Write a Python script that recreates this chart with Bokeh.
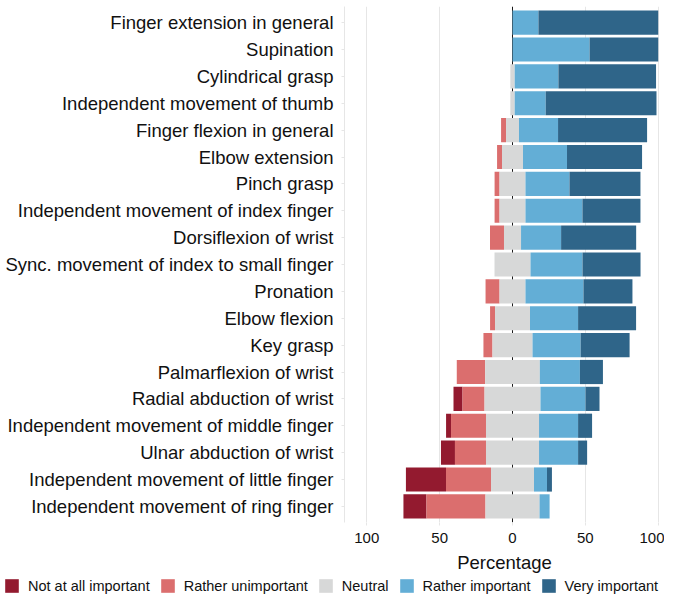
from bokeh.plotting import figure
from bokeh.layouts import column
from bokeh.models import (Range1d, FixedTicker, CustomJSTickFormatter, Span,
                          Legend, LegendItem, ColumnDataSource)
from bokeh.embed import file_html
from bokeh.resources import INLINE

categories = [
    "Finger extension in general",
    "Supination",
    "Cylindrical grasp",
    "Independent movement of thumb",
    "Finger flexion in general",
    "Elbow extension",
    "Pinch grasp",
    "Independent movement of index finger",
    "Dorsiflexion of wrist",
    "Sync. movement of index to small finger",
    "Pronation",
    "Elbow flexion",
    "Key grasp",
    "Palmarflexion of wrist",
    "Radial abduction of wrist",
    "Independent movement of middle finger",
    "Ulnar abduction of wrist",
    "Independent movement of little finger",
    "Independent movement of ring finger",
]
levels = ["Not at all important", "Rather unimportant", "Neutral",
          "Rather important", "Very important"]

not_at_all = [0, 0, 0, 0, 0, 0, 0, 0, 0, 0, 0, 0, 0, 0, 6.2, 3.4, 9.6, 27.5, 15.8]
rather_unimp = [0, 0, 0, 0, 3.4, 3.4, 3.4, 3.4, 9.6, 0, 9.6, 3.4, 6.2, 19.5, 15.1, 24.0, 21.3, 30.9, 40.5]
neutral = [0, 0, 3.0, 3.0, 8.9, 14.4, 17.8, 17.8, 11.7, 24.7, 17.8, 24.0, 27.5, 37.5, 38.4, 36.4, 36.4, 29.5, 37.1]
rather_imp = [17.8, 52.9, 30.0, 21.3, 26.8, 30.2, 30.2, 39.1, 27.5, 35.7, 39.8, 33.0, 33.0, 27.5, 30.9, 26.8, 26.8, 8.9, 6.9]
very_imp = [82.2, 47.1, 67.0, 76.0, 61.1, 51.5, 48.7, 39.8, 51.5, 39.8, 33.6, 39.8, 33.6, 15.8, 9.6, 9.6, 6.2, 3.4, 0]

x_ticks = [-100, -50, 0, 50, 100]

colors = ["#931A2F", "#DB6E6E", "#D7D8D8", "#63AED6", "#2F6589"]

n = len(categories)
ypos = [n - i for i in range(n)]
series = [not_at_all, rather_unimp, neutral, rather_imp, very_imp]

font = "Liberation Sans"
txt = "#111111"

p = figure(width=664, height=575, output_backend="svg", toolbar_location=None,
           x_range=Range1d(-115.3, 104.3), y_range=Range1d(0.4, n + 0.6),
           min_border_left=344, min_border_right=0, min_border_top=6,
           min_border_bottom=0)
p.frame_align = False
p.outline_line_color = None
p.background_fill_color = "white"

p.xgrid.ticker = FixedTicker(ticks=x_ticks)
p.xgrid.grid_line_color = "#E6E6E6"
p.xgrid.grid_line_width = 1
p.ygrid.grid_line_color = None

zero = Span(location=0, dimension="height", line_color="#1a1a1a", line_width=1)
zero.level = "underlay"
p.add_layout(zero)

starts = [-(a + b + c / 2.0) for a, b, c in zip(not_at_all, rather_unimp, neutral)]
cur = list(starts)
for lvl, vals, col in zip(levels, series, colors):
    left = list(cur)
    right = [l + v for l, v in zip(left, vals)]
    cur = right
    src = ColumnDataSource(dict(y=ypos, left=left, right=right))
    p.hbar(y="y", left="left", right="right", height=0.9, source=src,
           fill_color=col, line_color=None)

p.xaxis.ticker = FixedTicker(ticks=x_ticks)
p.xaxis.formatter = CustomJSTickFormatter(code="return Math.abs(tick).toString();")
p.xaxis.axis_line_color = None
p.xaxis.major_tick_line_color = "#E6E6E6"
p.xaxis.major_tick_out = 3
p.xaxis.major_tick_in = 0
p.xaxis.minor_tick_line_color = None
p.xaxis.major_label_standoff = 7
p.xaxis.major_label_text_font = font
p.xaxis.major_label_text_font_size = "15px"
p.xaxis.major_label_text_color = txt
p.xaxis.axis_label = "Percentage"
p.xaxis.axis_label_text_font = font
p.xaxis.axis_label_text_font_size = "18.5px"
p.xaxis.axis_label_text_font_style = "normal"
p.xaxis.axis_label_text_color = txt
p.xaxis.axis_label_standoff = 6

p.yaxis.ticker = FixedTicker(ticks=ypos)
p.yaxis.major_label_overrides = {y: c for y, c in zip(ypos, categories)}
p.yaxis.axis_line_color = "#E6E6E6"
p.yaxis.major_tick_line_color = "#E6E6E6"
p.yaxis.major_tick_out = 3
p.yaxis.major_tick_in = 0
p.yaxis.minor_tick_line_color = None
p.yaxis.major_label_standoff = 8
p.yaxis.major_label_text_font = font
p.yaxis.major_label_text_font_size = "18.5px"
p.yaxis.major_label_text_color = txt

# legend strip (key only; the dummy bars lie outside its visible range)
lg = figure(width=664, height=21, output_backend="svg", toolbar_location=None,
            x_range=Range1d(0, 1), y_range=Range1d(0, 1),
            x_axis_location=None, y_axis_location=None,
            min_border_left=0, min_border_right=0, min_border_top=0,
            min_border_bottom=0)
lg.frame_align = False
lg.outline_line_color = None
lg.xgrid.grid_line_color = None
lg.ygrid.grid_line_color = None
items = []
for lvl, col in zip(levels, colors):
    r = lg.hbar(y=[5], left=[5], right=[6], height=0.5, fill_color=col, line_color=None)
    items.append(LegendItem(label=lvl, renderers=[r]))
legend = Legend(items=items, orientation="horizontal", location=(3, 2),
                glyph_width=17, glyph_height=17, label_standoff=8, spacing=9,
                label_height=17,
                padding=0, margin=0, border_line_color=None,
                background_fill_alpha=0,
                label_text_font=font, label_text_font_size="14.5px",
                label_text_color=txt)
lg.add_layout(legend, "center")

layout = column(p, lg, spacing=0)
open("out.html", "w").write(file_html(layout, INLINE))
